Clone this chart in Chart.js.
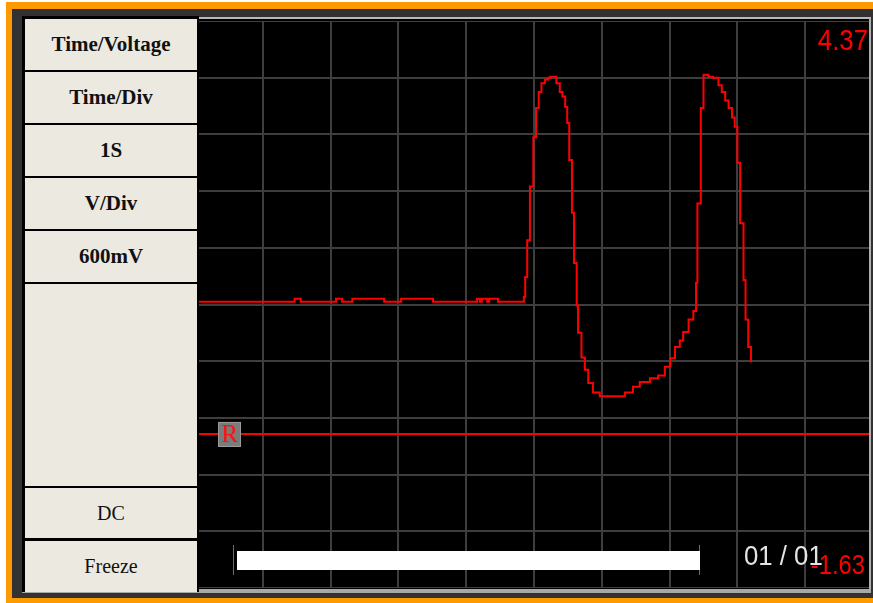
<!DOCTYPE html>
<html>
<head>
<meta charset="utf-8">
<title>Time/Voltage</title>
<script src="https://cdn.jsdelivr.net/npm/chart.js@4.4.1/dist/chart.umd.min.js"></script>
<style>
  html, body { margin: 0; padding: 0; background: #fff; }
  #page { position: relative; width: 873px; height: 603px; overflow: hidden; }
  .abs { position: absolute; box-sizing: border-box; }
  #frame { left: 6px; top: 2px; width: 867px; height: 601px; background: #ff9900; }
  #bezel { left: 12px; top: 9px; width: 861px; height: 589px; background: #323232; }
  #bottomEdge { left: 22px; top: 589px; width: 849px; height: 4px; background: #a8a8a8; }
  #screen { left: 197px; top: 17px; width: 674px; height: 572px; background: #000; overflow: hidden; }
  #screen canvas { position: absolute; left: -2px; top: 4px; }
  #screenEdge { left: 197px; top: 17px; width: 674px; height: 572px;
    border-top: 2px solid #b8b8b8; border-right: 2px solid #b0b0b0; pointer-events: none; }
  #panel { left: 22px; top: 16px; width: 177px; height: 576px; background: #000; }
  .btn { position: absolute; left: 25px; width: 172px; background: #ece9e0;
    display: flex; align-items: center; justify-content: center;
    font-family: "Liberation Serif", "Times New Roman", serif; color: #111; }
  .btn.b { font-weight: bold; font-size: 21px; }
  .btn.r { font-size: 20px; }
</style>
</head>
<body>
<div id="page">
  <div id="frame" class="abs"></div>
  <div id="bezel" class="abs"></div>
  <div id="bottomEdge" class="abs"></div>
  <div id="screen" class="abs"><canvas id="scope" width="678" height="567"></canvas></div>
  <div id="screenEdge" class="abs"></div>
  <div id="panel" class="abs"></div>
  <div class="btn b" style="top:19px;height:51px">Time/Voltage</div>
  <div class="btn b" style="top:72px;height:51px">Time/Div</div>
  <div class="btn b" style="top:125px;height:51px">1S</div>
  <div class="btn b" style="top:178px;height:51px">V/Div</div>
  <div class="btn b" style="top:231px;height:51px">600mV</div>
  <div class="btn r" style="top:284px;height:202px"></div>
  <div class="btn r" style="top:488px;height:50px">DC</div>
  <div class="btn r" style="top:541px;height:51px">Freeze</div>
</div>
<script>
// captured trace, seconds / volts (1 S/div, 600 mV/div)
const timeSec = [0.06, 1.47, 1.56, 2.08, 2.17, 2.32, 2.79, 3.04, 3.51, 4.16, 4.20, 4.23, 4.31, 4.34, 4.47,
  4.84, 4.85, 4.87, 4.90, 4.94, 4.99, 5.03, 5.07, 5.11, 5.16, 5.21, 5.24, 5.28, 5.33, 5.38, 5.42, 5.46,
  5.49, 5.52, 5.56, 5.59, 5.63, 5.65, 5.70, 5.75, 5.80, 5.87, 5.97, 6.24, 6.34, 6.46, 6.56, 6.71, 6.83,
  6.93, 7.01, 7.08, 7.15, 7.20, 7.28, 7.35, 7.39, 7.41, 7.46, 7.50, 7.57, 7.64, 7.72, 7.77, 7.82, 7.87,
  7.92, 7.96, 8.00, 8.04, 8.09, 8.12, 8.16, 8.20];
const volts = [1.40, 1.43, 1.40, 1.43, 1.40, 1.43, 1.40, 1.43, 1.40, 1.43, 1.40, 1.43, 1.40, 1.43, 1.40,
  1.40, 1.45, 1.66, 2.05, 2.62, 3.14, 3.45, 3.62, 3.71, 3.75, 3.77, 3.78, 3.78, 3.71, 3.62, 3.57, 3.46,
  3.29, 2.90, 2.34, 1.81, 1.36, 1.07, 0.81, 0.68, 0.54, 0.44, 0.40, 0.40, 0.44, 0.50, 0.55, 0.59, 0.62,
  0.71, 0.80, 0.92, 0.99, 1.08, 1.21, 1.30, 1.60, 2.44, 3.45, 3.80, 3.78, 3.77, 3.69, 3.62, 3.53, 3.45,
  3.35, 3.25, 2.87, 2.23, 1.63, 1.21, 0.92, 0.76];

const refLevel = 0;          // "R" reference line
const refSpan = [0.06, 10];  // seconds
const yTop = 4.37;
const yBottom = -1.63;
const voltsPerDiv = 0.6;
const timeDivs = 10;
const pageLabel = '01 / 01';

const gridVolts = [];
for (let k = 0; k <= 10; k++) gridVolts.push(yBottom + k * voltsPerDiv);

const gridOpts = { color: '#3e3e3e', lineWidth: 2, drawTicks: false };

function narrowText(ctx, str, x, y, size, color, align, sx) {
  ctx.save();
  ctx.translate(x, y);
  ctx.scale(sx, 1);
  ctx.font = size + 'px "Liberation Sans", Arial, sans-serif';
  ctx.fillStyle = color;
  ctx.textAlign = align;
  ctx.textBaseline = 'alphabetic';
  ctx.fillText(str, 0, 0);
  ctx.restore();
}

const scopeOverlay = {
  id: 'scopeOverlay',
  afterDatasetsDraw(chart) {
    const { ctx, chartArea: a, scales } = chart;
    const ry = scales.y.getPixelForValue(refLevel);

    // R marker box
    ctx.save();
    ctx.fillStyle = '#7b7b7b';
    ctx.strokeStyle = '#9a9a9a';
    ctx.lineWidth = 1;
    ctx.fillRect(a.left + 23, ry - 12, 23, 25);
    ctx.strokeRect(a.left + 23.5, ry - 11.5, 22, 24);
    ctx.fillStyle = '#ff1010';
    ctx.font = '25px "Liberation Serif", "Times New Roman", serif';
    ctx.textAlign = 'center';
    ctx.textBaseline = 'middle';
    ctx.fillText('R', a.left + 34.5, ry + 1);

    // record progress bar
    ctx.fillStyle = '#6a6a6a';
    ctx.fillRect(a.left + 38, a.top + 524, 1, 30);
    ctx.fillRect(a.left + 504, a.top + 524, 1, 30);
    ctx.fillStyle = '#ffffff';
    ctx.fillRect(a.left + 42, a.top + 530, 463, 19);
    ctx.restore();

    narrowText(ctx, pageLabel, a.left + 549, a.top + 544, 28, '#e4e4e4', 'left', 0.92);
    narrowText(ctx, yTop.toFixed(2), a.left + 673, a.top + 29, 30, '#ff0000', 'right', 0.86);
    narrowText(ctx, yBottom.toFixed(2), a.left + 670, a.top + 553, 27, '#ff0000', 'right', 0.88);
  }
};

new Chart(document.getElementById('scope'), {
  type: 'line',
  data: {
    datasets: [
      {
        label: 'CH1',
        data: timeSec.map((t, i) => ({ x: t, y: volts[i] })),
        borderColor: '#ff0000',
        borderWidth: 2,
        pointRadius: 0,
        stepped: true,
        fill: false
      },
      {
        label: 'R',
        data: refSpan.map(t => ({ x: t, y: refLevel })),
        borderColor: '#ff0000',
        borderWidth: 2,
        pointRadius: 0,
        fill: false
      }
    ]
  },
  options: {
    responsive: false,
    animation: false,
    devicePixelRatio: 1,
    layout: { padding: 0 },
    plugins: { legend: { display: false }, tooltip: { enabled: false } },
    scales: {
      x: {
        type: 'linear', min: 0, max: timeDivs,
        ticks: { display: false, stepSize: 1 },
        grid: gridOpts,
        border: { display: false }
      },
      y: {
        type: 'linear', min: yBottom, max: yTop,
        ticks: { display: false },
        afterBuildTicks: s => { s.ticks = gridVolts.map(v => ({ value: v })); },
        grid: gridOpts,
        border: { display: false }
      }
    }
  },
  plugins: [scopeOverlay]
});
</script>
</body>
</html>
